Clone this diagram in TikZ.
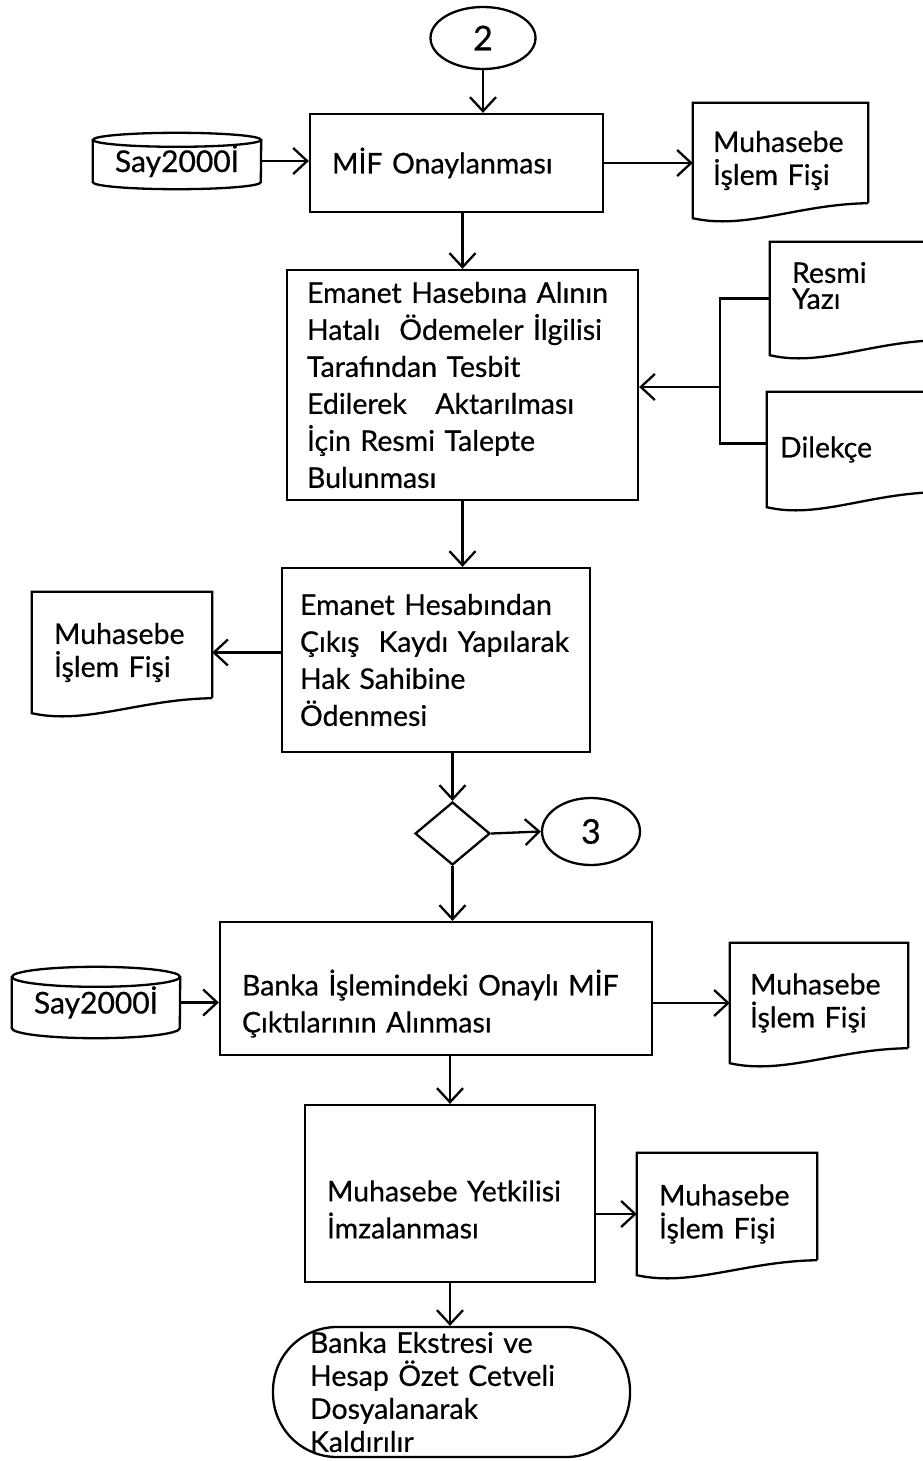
\documentclass[tikz,border=0pt]{standalone}
\usepackage{fontspec}
\setmainfont{Lato}[FakeBold=0.6]
\usepackage{tikz}
\usetikzlibrary{calc,arrows.meta,shapes.geometric}
\tikzset{
    thickline/.style={black,line width=2.3pt},
    flowarrow/.style={thickline,-{Straight Barb[length=14pt,width=26pt]}},
    procbox/.style={thickline,draw,rectangle,align=left,inner xsep=22pt,inner ysep=0pt,font=\fontsize{28.5}{37}\selectfont},
    docbox/.style={rectangle,align=left,inner xsep=22pt,inner ysep=0pt,font=\fontsize{28.5}{33}\selectfont},
    dbbox/.style={rectangle,minimum width=168pt,inner sep=0pt,font=\fontsize{30}{33}\selectfont},
    connbox/.style={thickline,draw,ellipse,inner sep=0pt,font=\fontsize{34}{36}\selectfont},
    decbox/.style={thickline,draw,diamond,minimum width=75pt,minimum height=63pt,inner sep=0pt},
    termbox/.style={thickline,draw,rectangle,rounded corners=64pt,align=left,inner xsep=37pt,inner ysep=0pt,font=\fontsize{28.5}{33}\selectfont}
}
\newcommand\docoutline[1]{%
  \draw[thickline] ([yshift=15pt]#1.south east) -- (#1.north east) -- (#1.north west) -- (#1.south west)
    .. controls ($(#1.south west)!0.3!(#1.south east)+(0pt,-12pt)$) and ($(#1.south west)!0.6!(#1.south east)+(0pt,14pt)$) .. ([yshift=15pt]#1.south east);}
\newcommand\dboutline[2]{%
  \draw[thickline] (#1.north west) -- (#1.south west) arc[start angle=180,end angle=360,x radius=84pt,y radius=#2] -- (#1.north east);
  \draw[thickline] (#1.north) ellipse [x radius=84pt,y radius=#2];}

\begin{document}
\begin{tikzpicture}[x=1pt,y=-1pt]
\useasboundingbox (0,0) rectangle (922,1461);
\node[connbox,minimum width=105pt,minimum height=62pt] (c2) at (483,38) {2};
\node[procbox,text width=249pt,minimum height=98pt] (onay) at (456.5,163) {MİF Onaylanması};
\node[dbbox,minimum height=42pt] (say1) at (177,161) {Say2000İ};
\dboutline{say1}{7pt}
\node[docbox,inner xsep=20pt,text width=135pt,minimum height=115pt] (fis1) at (780.5,160.5) {Muhasebe\\İşlem Fişi};
\docoutline{fis1}
\node[procbox,inner xsep=20pt,text width=311pt,minimum height=230pt] (talep) at (462.5,385) {Emanet Hasebına Alının\\Hatalı\ \ Ödemeler İlgilisi\\Tarafından Tesbit\\Edilerek\ \ \ Aktarılması\\İçin Resmi Talepte\\Bulunması};
\node[docbox,text width=126pt,minimum height=113pt,text depth=52pt] (resmi) at (855,298.5) {Resmi\\[-7pt]Yazı};
\docoutline{resmi}
\node[docbox,inner xsep=13pt,text width=144pt,minimum height=115pt] (dilekce) at (852,449.5) {Dilekçe};
\docoutline{dilekce}
\coordinate (br) at (720,387);
\node[procbox,inner xsep=18pt,text width=272pt,minimum height=184pt] (odeme) at (436,660) {Emanet Hesabından\\Çıkış\ \ Kaydı Yapılarak\\Hak Sahibine\\Ödenmesi};
\node[docbox,text width=136pt,minimum height=121pt] (fis2) at (122,652.5) {Muhasebe\\İşlem Fişi};
\docoutline{fis2}
\node[decbox] (karar) at (452.5,833.5) {};
\node[connbox,minimum width=98pt,minimum height=67pt] (c3) at (591,831.5) {3};
\node[procbox,text width=388pt,minimum height=133pt] (banka) at (436,988.5) {\rule{0pt}{56pt}Banka İşlemindeki Onaylı MİF\\Çıktılarının Alınması};
\node[dbbox,minimum height=51pt] (say2) at (96,1002.5) {Say2000İ};
\dboutline{say2}{10pt}
\node[docbox,inner xsep=20pt,text width=138pt,minimum height=120pt] (fis3) at (819,1003) {Muhasebe\\İşlem Fişi};
\docoutline{fis3}
\node[procbox,text width=246pt,minimum height=177pt] (imza) at (450,1193.5) {\rule{0pt}{53pt}Muhasebe Yetkilisi\\İmzalanması};
\node[docbox,text width=136pt,minimum height=122pt] (fis4) at (727,1214) {Muhasebe\\İşlem Fişi};
\docoutline{fis4}
\node[termbox,text width=283pt,minimum height=130pt] (son) at (451.5,1392) {Banka Ekstresi ve\\Hesap Özet Cetveli\\Dosyalanarak\\Kaldırılır};
\draw[flowarrow] (c2.south) -- (c2.south |- onay.north);
\draw[flowarrow] (say1.east) -- (say1.east -| onay.west);
\draw[flowarrow] (onay.east) -- (onay.east -| fis1.west);
\draw[flowarrow] (talep.north |- onay.south) -- (talep.north);
\draw[thickline] (resmi.west) -| (br) |- ([yshift=6pt]dilekce.west);
\draw[flowarrow] (br) -- (br -| talep.east);
\draw[flowarrow] (talep.south) -- (talep.south |- odeme.north);
\draw[flowarrow] (fis2.east -| odeme.west) -- (fis2.east);
\draw[flowarrow] (karar.north |- odeme.south) -- (karar.north);
\draw[flowarrow] (karar.east) -- (c3.west);
\draw[flowarrow] (karar.south) -- (karar.south |- banka.north);
\draw[flowarrow] (say2.east) -- (say2.east -| banka.west);
\draw[flowarrow] (fis3.west -| banka.east) -- (fis3.west);
\draw[flowarrow] (imza.north |- banka.south) -- (imza.north);
\draw[flowarrow] (fis4.west -| imza.east) -- (fis4.west);
\draw[flowarrow] (imza.south) -- (imza.south |- son.north);
\end{tikzpicture}
\end{document}
